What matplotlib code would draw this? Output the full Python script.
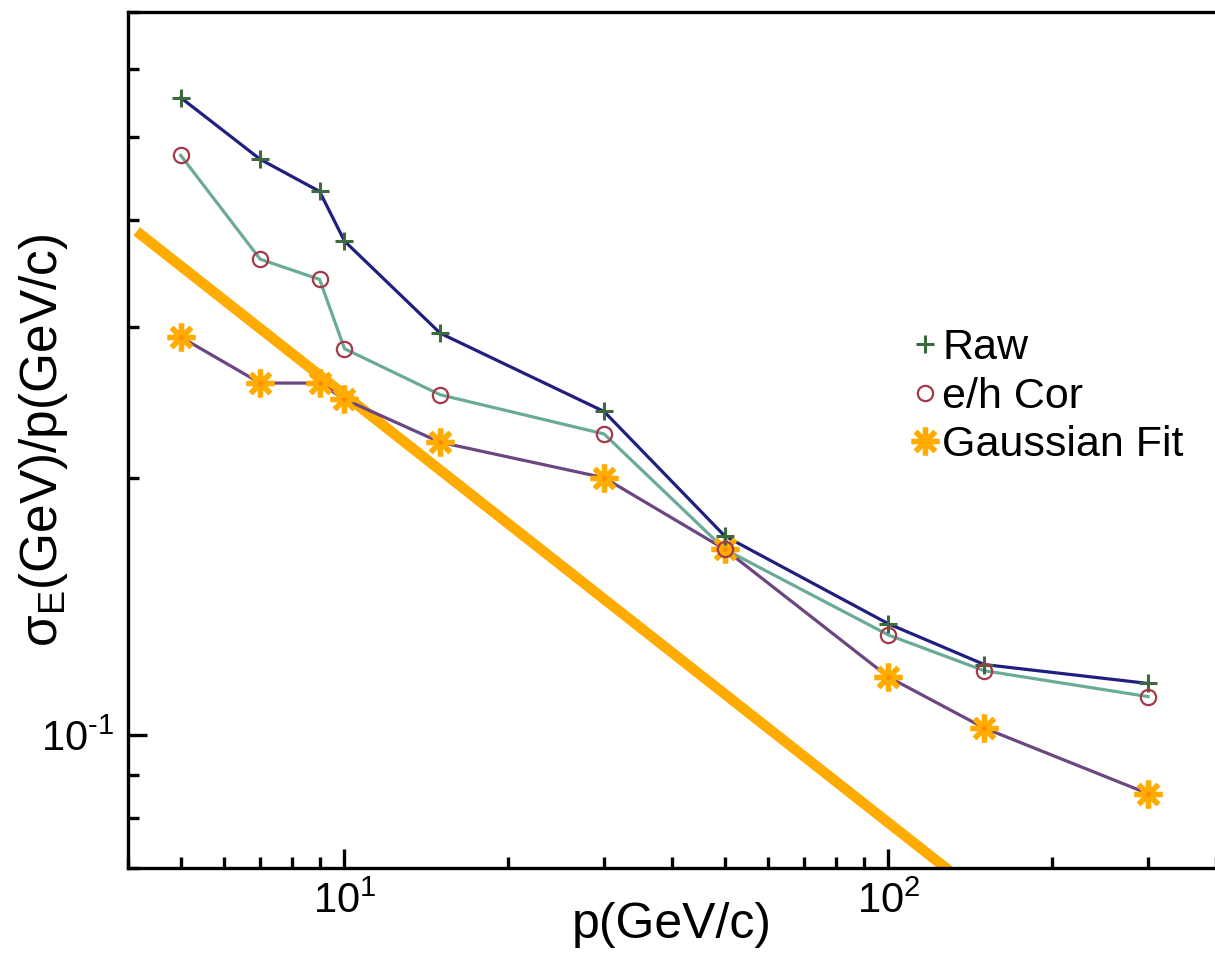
import numpy as np
import matplotlib
matplotlib.use("Agg")
import matplotlib.pyplot as plt
from matplotlib.lines import Line2D
from matplotlib import ticker

plt.rcParams["font.family"] = ["Liberation Sans", "DejaVu Sans"]
plt.rcParams["mathtext.fontset"] = "custom"
plt.rcParams["mathtext.rm"] = "Liberation Sans"
plt.rcParams["mathtext.it"] = "Liberation Sans"
plt.rcParams["mathtext.default"] = "regular"

# momentum points (GeV/c)
p = [5, 7, 9, 10, 15, 30, 50, 100, 150, 300]

# relative energy resolution
raw = [0.556, 0.471, 0.432, 0.378, 0.295, 0.239, 0.171, 0.135, 0.121, 0.115]
eh_cor = [0.476, 0.360, 0.341, 0.283, 0.250, 0.225, 0.165, 0.131, 0.119, 0.111]
gauss = [0.292, 0.258, 0.258, 0.247, 0.220, 0.200, 0.165, 0.117, 0.102, 0.0855]

# thick reference line (1/sqrt(p) slope), two end points
ref_p = [4.15, 140]
ref_sigma = [0.388, 0.0668]

NAVY = "#1f1f80"
GREEN = "#3d6a3d"
TEAL = "#6aab98"
RED = "#a3394a"
PURPLE = "#6b4682"
ORANGE = "#ffab00"

fig = plt.figure(figsize=(12.15, 9.61), dpi=100)
ax = fig.add_axes([128 / 1215, 1 - 868 / 961, 1088 / 1215, 856 / 961])

ax.plot(ref_p, ref_sigma, color=ORANGE, lw=7.5, solid_capstyle="butt", zorder=1)

ax.plot(p, raw, color=NAVY, lw=2.3, zorder=2)
ax.plot(p, eh_cor, color=TEAL, lw=2.3, zorder=2)
ax.plot(p, gauss, color=PURPLE, lw=2.3, zorder=2)

# markers
ax.plot(p, gauss, ls="none", marker=(8, 2, 0), ms=20, mew=3.8, mec=ORANGE, zorder=3)
ax.plot(p, gauss, ls="none", marker="o", ms=3.5, mfc="#ff8c00", mec="none", zorder=3)
ax.plot(p, raw, ls="none", marker="+", ms=13, mew=2.2, mec=GREEN, zorder=4)
ax.plot(p, eh_cor, ls="none", marker="o", ms=11, mew=1.6, mfc="none", mec=RED, zorder=4)

ax.set_xscale("log")
ax.set_yscale("log")
ax.set_xlim(4, 400)
ax.set_ylim(0.07, 0.7)

ax.spines["right"].set_visible(False)
for s in ["left", "bottom", "top"]:
    ax.spines[s].set_linewidth(2.4)


def pow_label(v, pos):
    e = int(round(np.log10(v)))
    return "$10^{%s}$" % str(e).replace("-", "\u2010")


ax.xaxis.set_major_formatter(ticker.FuncFormatter(pow_label))
ax.yaxis.set_major_formatter(ticker.FuncFormatter(pow_label))
ax.yaxis.set_minor_formatter(ticker.NullFormatter())
ax.xaxis.set_minor_formatter(ticker.NullFormatter())

ax.tick_params(which="both", direction="in", top=False, right=False, width=2.4)
ax.tick_params(which="major", length=14, labelsize=30, pad=10)
ax.tick_params(which="minor", length=8)

ax.set_xlabel("p(GeV/c)", fontsize=36)
ax.set_ylabel("σ$_{E}$(GeV)/p(GeV/c)", fontsize=37)
ax.xaxis.set_label_coords(0.5, (868 - 902) / 856)
ax.yaxis.set_label_coords((70 - 128) / 1088, 0.5)

handles = [
    Line2D([], [], ls="none", marker="+", ms=13, mew=2.2, mec=GREEN),
    Line2D([], [], ls="none", marker="o", ms=11, mew=1.6, mfc="none", mec=RED),
    Line2D([], [], ls="none", marker=(8, 2, 0), ms=20, mew=3.8, mec=ORANGE),
]
ax.legend(handles, ["Raw", "e/h Cor", "Gaussian Fit"], loc="upper left",
          bbox_to_anchor=(910 / 1215, 1 - 328 / 961), bbox_transform=fig.transFigure,
          frameon=False, fontsize=31, handlelength=0.7, handletextpad=0.05,
          labelspacing=0.2, borderaxespad=0, borderpad=0)

fig.savefig("out.png", dpi=100)
